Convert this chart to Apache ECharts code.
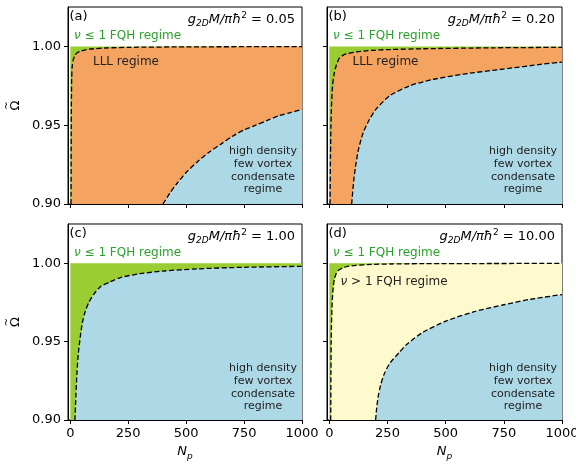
<!DOCTYPE html>
<html>
<head>
<meta charset="utf-8">
<script src="https://cdn.jsdelivr.net/npm/echarts@6/dist/echarts.min.js"></script>
<style>
  html, body { margin: 0; background: #fff; }
  #chart { width: 576px; height: 464px; }
</style>
</head>
<body>
<div id="chart"></div>
<script>
// tick labels
const xTicks = [0, 250, 500, 750, 1000]
const yTicks = [0.90, 0.95, 1.00]
const panelTags = ['(a)', '(b)', '(c)', '(d)']
const couplings = ['0.05', '0.20', '1.00', '10.00']

// top edge of the filled part (Omega = 1)
const topBand = [[0, 1.0], [1000, 1.0]]

// (a) g = 0.05
const fqhA = [[3, 0.90], [4, 0.95], [5, 0.97], [6, 0.98], [8, 0.987], [12, 0.991], [20, 0.9945], [30, 0.996],
  [45, 0.997], [70, 0.998], [100, 0.9985], [150, 0.999], [250, 0.9994], [500, 0.9997], [1000, 0.9999]]
const condA = [[400, 0.900], [430, 0.907], [460, 0.913], [500, 0.920], [550, 0.927], [600, 0.933], [650, 0.938],
  [700, 0.943], [750, 0.947], [800, 0.950], [850, 0.953], [900, 0.956], [950, 0.958], [1000, 0.960]]

// (b) g = 0.20
const fqhB = [[3, 0.90], [5, 0.93], [7, 0.95], [10, 0.965], [14, 0.975], [20, 0.982], [30, 0.988], [43, 0.9925],
  [60, 0.9945], [80, 0.9955], [115, 0.9965], [180, 0.9975], [260, 0.998], [400, 0.9985], [700, 0.9991], [1000, 0.9994]]
const condB = [[96, 0.900], [105, 0.915], [115, 0.926], [126, 0.935], [145, 0.945], [170, 0.953], [200, 0.960],
  [259, 0.9686], [345, 0.975], [445, 0.979], [575, 0.9824], [747, 0.9856], [920, 0.9888], [1000, 0.990]]

// (c) g = 1.00
const condC = [[20, 0.90], [24, 0.915], [29, 0.931], [35, 0.943], [43, 0.953], [52, 0.962], [64, 0.969], [80, 0.975],
  [100, 0.980], [130, 0.985], [170, 0.988], [220, 0.991], [300, 0.9933], [400, 0.995], [550, 0.9964], [750, 0.9974], [1000, 0.998]]

// (d) g = 10.00
const fqhD = [[6, 0.90], [7, 0.93], [8, 0.95], [10, 0.965], [13, 0.977], [17, 0.985], [22, 0.990], [30, 0.9935],
  [40, 0.9955], [58, 0.997], [80, 0.998], [115, 0.9986], [180, 0.9992], [260, 0.9995], [400, 0.9997], [700, 0.9998], [1000, 0.9999]]
const condD = [[199, 0.900], [203, 0.907], [210, 0.915], [220, 0.922], [235, 0.929], [259, 0.936], [300, 0.943],
  [331, 0.948], [403, 0.956], [500, 0.963], [620, 0.969], [750, 0.9735], [865, 0.977], [1000, 0.980]]

const GREEN = '#9acd32'
const ORANGE = '#f4a460'
const BLUE = '#add8e6'
const YELLOW = '#fffacd'
const TEXT_GREEN = '#2ca02c'
const FONT = 'DejaVu Sans'

const grids = [
  { left: 68, top: 7, width: 234, height: 197 },
  { left: 327, top: 7, width: 235, height: 197 },
  { left: 68, top: 224, width: 234, height: 196 },
  { left: 327, top: 224, width: 235, height: 196 },
]

const area = (idx, data, color, dashed) => ({
  type: 'line',
  xAxisIndex: idx,
  yAxisIndex: idx,
  data: data,
  symbol: 'none',
  smooth: 0.25,
  silent: true,
  lineStyle: dashed ? { color: '#000', width: 1.3, type: [5, 2.5] } : { opacity: 0 },
  areaStyle: { color: color, opacity: 1, origin: 'start' },
})

// rich styles for graphic texts (zrender uses fill)
const tok = (size, fill, italic, extra) => Object.assign({
  fontFamily: FONT, fontSize: size, fill: fill, fontStyle: italic ? 'italic' : 'normal',
}, extra || {})

const mathRich = {
  i: tok(13, '#000', true, { lineHeight: 18, verticalAlign: 'middle' }),
  sub: tok(9, '#000', true, { lineHeight: 18, verticalAlign: 'bottom', padding: [0, 0, 1, 0] }),
  sup: tok(9, '#000', false, { lineHeight: 18, verticalAlign: 'top' }),
  n: tok(13, '#000', false, { lineHeight: 18, verticalAlign: 'middle' }),
}

const texts = []
grids.forEach((g, i) => {
  const right = g.left + g.width
  texts.push({
    type: 'text', x: g.left + 1.5, y: g.top + 10, z: 100, silent: true,
    style: { text: panelTags[i], font: '13px "' + FONT + '"', fill: '#000', verticalAlign: 'middle' },
  })
  texts.push({
    type: 'text', x: right - 7, y: g.top + 13, z: 100, silent: true,
    style: {
      text: '{i|g}{sub|2D}{i|M/πħ}{sup|2}{n| = ' + couplings[i] + '}',
      rich: mathRich, align: 'right', verticalAlign: 'middle',
    },
  })
  texts.push({
    type: 'text', x: g.left + 6, y: g.top + 29, z: 100, silent: true,
    style: {
      text: '{i|ν}{n| ≤ 1 FQH regime}',
      rich: { i: tok(12, TEXT_GREEN, true), n: tok(12, TEXT_GREEN, false) },
      verticalAlign: 'middle',
    },
  })
  texts.push({
    type: 'text', x: right - 39, y: g.top + 163.5, z: 100, silent: true,
    style: {
      text: 'high density\nfew vortex\ncondensate\nregime',
      font: '11px "' + FONT + '"', fill: '#222', align: 'center', verticalAlign: 'middle', lineHeight: 12.7,
    },
  })
})
texts.push({
  type: 'text', x: 93, y: 62, z: 100, silent: true,
  style: { text: 'LLL regime', font: '12px "' + FONT + '"', fill: '#222', verticalAlign: 'middle' },
})
texts.push({
  type: 'text', x: 352.5, y: 62, z: 100, silent: true,
  style: { text: 'LLL regime', font: '12px "' + FONT + '"', fill: '#222', verticalAlign: 'middle' },
})
texts.push({
  type: 'text', x: 340.5, y: 282, z: 100, silent: true,
  style: {
    text: '{i|ν}{n| > 1 FQH regime}',
    rich: { i: tok(12, '#222', true), n: tok(12, '#222', false) },
    verticalAlign: 'middle',
  },
})

const xAxes = grids.map((g, i) => ({
  type: 'value',
  gridIndex: i,
  min: -10,
  max: 1000,
  axisLine: { show: true, onZero: false, lineStyle: { color: '#000', width: 1 } },
  axisTick: { show: true, customValues: xTicks, length: 4, lineStyle: { color: '#000', width: 1 } },
  axisLabel: {
    show: i >= 2, customValues: xTicks, margin: 7,
    fontFamily: FONT, fontSize: 13, color: '#000',
    formatter: (v) => String(v),
  },
  splitLine: { show: false },
  name: i >= 2 ? '{i|N}{s|p}' : '',
  nameLocation: 'middle',
  nameGap: 23,
  nameTextStyle: {
    rich: {
      i: { fontFamily: FONT, fontStyle: 'italic', fontSize: 13, color: '#000', lineHeight: 18, verticalAlign: 'middle' },
      s: { fontFamily: FONT, fontStyle: 'italic', fontSize: 9, color: '#000', lineHeight: 18, verticalAlign: 'bottom' },
    },
  },
}))

const yAxes = grids.map((g, i) => ({
  type: 'value',
  gridIndex: i,
  min: 0.9,
  max: 1.025,
  axisLine: { show: true, onZero: false, lineStyle: { color: '#000', width: 1 } },
  axisTick: { show: true, customValues: yTicks, length: 4, lineStyle: { color: '#000', width: 1 } },
  axisLabel: {
    show: i % 2 === 0, customValues: yTicks, margin: 7,
    fontFamily: FONT, fontSize: 13, color: '#000',
    formatter: (v) => v.toFixed(2),
  },
  splitLine: { show: false },
  // Omega with a tilde on top (left once rotated)
  name: i % 2 === 0 ? '{t|~}\n{o|Ω}' : '',
  nameLocation: 'middle',
  nameRotate: 90,
  nameGap: 46,
  nameTextStyle: {
    align: 'center',
    rich: {
      t: { fontFamily: FONT, fontSize: 10, color: '#000', lineHeight: 3, align: 'center' },
      o: { fontFamily: FONT, fontSize: 13, color: '#000', lineHeight: 13, align: 'center' },
    },
  },
}))

const chart = echarts.init(document.getElementById('chart'), null, { renderer: 'canvas' })
chart.setOption({
  animation: false,
  backgroundColor: '#fff',
  grid: grids.map((g) => ({
    ...g, show: true, borderColor: '#000', borderWidth: 1, backgroundColor: 'transparent',
    containLabel: false, outerBoundsMode: 'none',
  })),
  xAxis: xAxes,
  yAxis: yAxes,
  series: [
    area(0, topBand, GREEN, false),
    area(0, fqhA, ORANGE, true),
    area(0, condA, BLUE, true),
    area(1, topBand, GREEN, false),
    area(1, fqhB, ORANGE, true),
    area(1, condB, BLUE, true),
    area(2, topBand, GREEN, false),
    area(2, condC, BLUE, true),
    area(3, topBand, GREEN, false),
    area(3, fqhD, YELLOW, true),
    area(3, condD, BLUE, true),
  ],
  graphic: texts,
})
</script>
</body>
</html>
